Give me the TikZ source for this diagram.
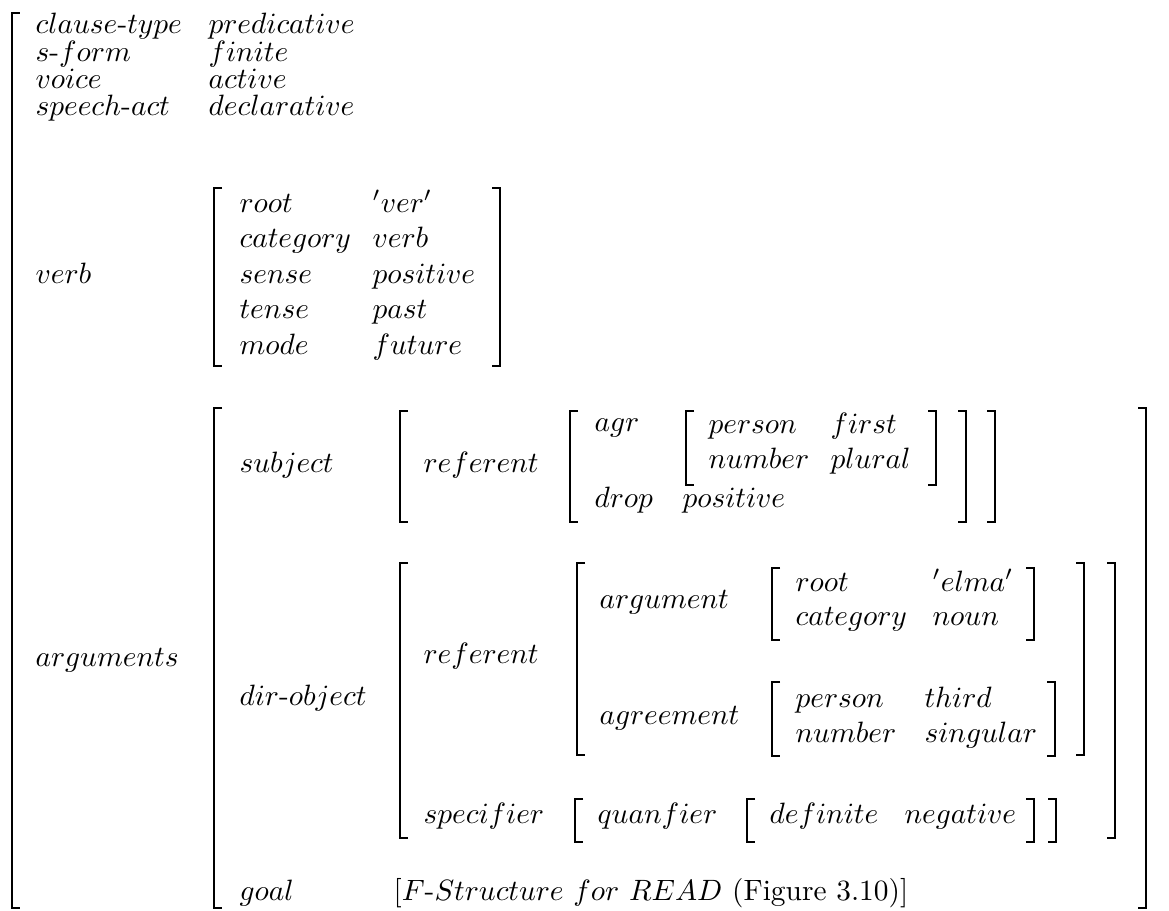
\documentclass[tikz,border=0pt]{standalone}
\usepackage{amsmath}
\newcommand{\avmL}[3]{\draw[brk] (#1+8,#2) -| (#1,#3) -- (#1+8,#3);}
\newcommand{\avmR}[3]{\draw[brk] (#1-8,#2) -| (#1,#3) -- (#1-8,#3);}
\begin{document}
\begin{tikzpicture}[x=0.3401pt, y=-0.3401pt,
  every node/.style={anchor=base west, inner sep=0pt},
  brk/.style={line width=0.7pt}]
  \useasboundingbox (0,0) rectangle (1169,911);
  % top level
  \node(ct) at (35,33) {$clause$-$type$};
  \node(ctv) at (208,33) {$predicative$};
  \node(sf) at (35,61) {$s$-$form$};
  \node(sfv) at (208,61) {$finite$};
  \node(vo) at (35,88) {$voice$};
  \node(vov) at (208,88) {$active$};
  \node(sa) at (35,115) {$speech$-$act$};
  \node(sav) at (208,115) {$declarative$};
  \node(vb) at (35,283) {$verb$};
  \node(ar) at (35,666) {$arguments$};
  \avmL{12}{13}{908}
  % verb
  \node(vr) at (239,212) {$root$};
  \node(vrv) at (372,212) {$'ver'$};
  \node(vc) at (239,247) {$category$};
  \node(vcv) at (372,247) {$verb$};
  \node(vs) at (239,283) {$sense$};
  \node(vsv) at (372,283) {$positive$};
  \node(vt) at (239,318) {$tense$};
  \node(vtv) at (372,318) {$past$};
  \node(vm) at (239,354) {$mode$};
  \node(vmv) at (372,354) {$future$};
  \avmL{214}{188}{366}
  \avmR{500}{188}{366}
  % arguments
  \node(sj) at (239,472) {$subject$};
  \node(dob) at (239,705) {$dir$-$object$};
  \node(gl) at (239,900) {$goal$};
  \node(glv) at (393,900) {$[F$-$Structure\ for\ READ$ (Figure 3.10)$]$};
  \avmL{214}{408}{908}
  \avmR{1146}{408}{908}
  % subject
  \node(sref) at (423,472) {$referent$};
  \node(agr) at (594,431) {$agr$};
  \node(drop) at (594,507) {$drop$};
  \node(dropv) at (682,507) {$positive$};
  \node(sp) at (708,433) {$person$};
  \node(spv) at (830,433) {$first$};
  \node(sn) at (708,468) {$number$};
  \node(snv) at (830,468) {$plural$};
  \avmL{400}{411}{522}
  \avmL{570}{411}{522}
  \avmL{686}{411}{485}
  \avmR{936}{411}{485}
  \avmR{966}{411}{522}
  \avmR{995}{411}{522}
  % dir-object
  \node(dref) at (423,663) {$referent$};
  \node(darg) at (599,608) {$argument$};
  \node(rr) at (795,591) {$root$};
  \node(rrv) at (932,591) {$'elma'$};
  \node(rc) at (795,625) {$category$};
  \node(rcv) at (932,625) {$noun$};
  \node(dagr) at (599,724) {$agreement$};
  \node(ap) at (795,707) {$person$};
  \node(apv) at (924,707) {$third$};
  \node(an) at (795,742) {$number$};
  \node(anv) at (924,742) {$singular$};
  \node(spec) at (423,823) {$specifier$};
  \node(qu) at (597,823) {$quanfier$};
  \node(de) at (769,823) {$definite$};
  \node(ne) at (904,823) {$negative$};
  \avmL{400}{563}{838}
  \avmL{577}{563}{755}
  \avmL{772}{568}{640}
  \avmR{1034}{568}{640}
  \avmL{772}{682}{756}
  \avmR{1055}{682}{756}
  \avmR{1084}{563}{755}
  \avmL{575}{799}{842}
  \avmL{747}{799}{842}
  \avmR{1034}{799}{842}
  \avmR{1056}{799}{842}
  \avmR{1115}{563}{838}
\end{tikzpicture}
\end{document}
